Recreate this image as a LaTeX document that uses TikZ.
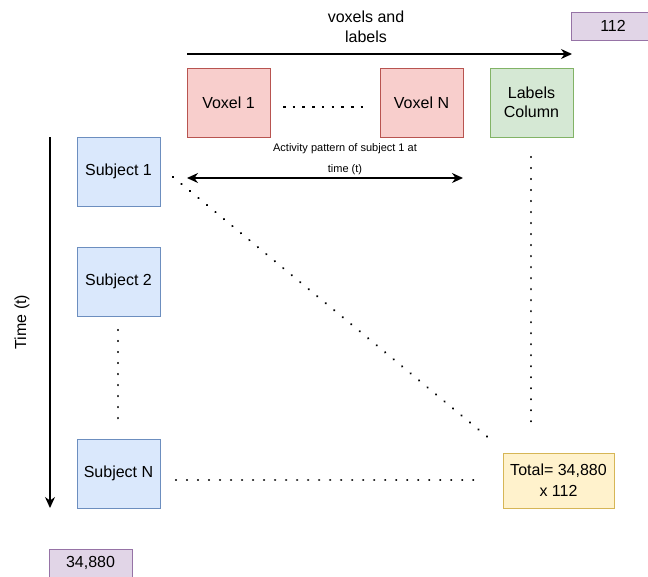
\documentclass[tikz,border=0pt]{standalone}
\usepackage{fontspec}
\setmainfont{Liberation Sans}
\usetikzlibrary{arrows.meta}
\definecolor{redf}{HTML}{F8CECC}\definecolor{redd}{HTML}{B85450}
\definecolor{bluef}{HTML}{DAE8FC}\definecolor{blued}{HTML}{6C8EBF}
\definecolor{greenf}{HTML}{D5E8D4}\definecolor{greend}{HTML}{82B366}
\definecolor{purpf}{HTML}{E1D5E7}\definecolor{purpd}{HTML}{9673A6}
\definecolor{yelf}{HTML}{FFF2CC}\definecolor{yeld}{HTML}{D6B656}
\begin{document}
\begin{tikzpicture}[x=1pt,y=-1pt,
  box/.style={draw, line width=0.9pt, minimum width=83pt, minimum height=69pt, inner sep=1pt, align=center, font=\fontsize{16}{19}\selectfont},
  voxbox/.style={box, fill=redf, draw=redd},
  subjbox/.style={box, fill=bluef, draw=blued},
  labbox/.style={box, fill=greenf, draw=greend},
  numbox/.style={draw=purpd, fill=purpf, line width=0.9pt, minimum width=83pt, minimum height=28pt, inner sep=1pt, font=\fontsize{16}{19}\selectfont},
  totbox/.style={draw=yeld, fill=yelf, line width=0.9pt, minimum width=111pt, minimum height=55pt, align=center, inner sep=1pt, font=\fontsize{16}{21}\selectfont},
  dots/.style={line width=2.4pt, dash pattern=on 0.01pt off 11pt, line cap=round},
  arr/.style={line width=1.4pt, -{Stealth[length=11pt,width=10pt]}},
  txt/.style={font=\fontsize{16}{20}\selectfont, align=center},
]
\useasboundingbox (0,0) rectangle (648,576);
\node[voxbox] (v1) at (228.5,102.5) {Voxel 1};
\node[voxbox] (vn) at (421.5,102.5) {Voxel N};
\node[labbox] (lc) at (531.5,102.5) {Labels\\Column};
\node[subjbox] (s1) at (118.5,171.5) {Subject 1};
\node[subjbox] (s2) at (118.5,281.5) {Subject 2};
\node[subjbox] (sn) at (118.5,473.5) {Subject N};
\node[totbox] (tot) at (558.5,480.5) {Total= 34,880\\x 112};
\node[numbox] (n112) at (613,26) {112};
\node[numbox] (n348) at (90.5,563) {34,880};
\node[txt] (vl) at (366,27) {voxels and\\labels};
\node[font=\fontsize{11}{13}\selectfont] (ap1) at (345,149) {Activity pattern of subject 1 at};
\node[font=\fontsize{11}{13}\selectfont] (ap2) at (345,169.5) {time (t)};
\node[rotate=90, font=\fontsize{16}{19}\selectfont] (tt) at (22,322) {Time (t)};
% arrows
\coordinate (ta) at (187,54); \coordinate (tb) at (572,54);
\draw[arr] (ta) -- (tb);
\coordinate (la) at (50,137); \coordinate (lb) at (50,508);
\draw[arr] (la) -- (lb);
\coordinate (da) at (187,178); \coordinate (db) at (463,178);
\draw[line width=1.4pt, {Stealth[length=11pt,width=10pt]}-{Stealth[length=11pt,width=10pt]}] (da) -- (db);
% dotted
\coordinate (d1a) at (283,107); \coordinate (d1b) at (366,107);
\draw[line width=2.6pt, dash pattern=on 2.6pt off 7.1pt] (d1a) -- (d1b);
\coordinate (d2a) at (118,330); \coordinate (d2b) at (118,420);
\draw[dots] (d2a) -- (d2b);
\coordinate (d3a) at (173,177); \coordinate (d3b) at (490,439);
\draw[dots] (d3a) -- (d3b);
\coordinate (d4a) at (531,157); \coordinate (d4b) at (531,426);
\draw[dots] (d4a) -- (d4b);
\coordinate (d5a) at (176,480); \coordinate (d5b) at (484,480);
\draw[dots] (d5a) -- (d5b);
\end{tikzpicture}
\end{document}
